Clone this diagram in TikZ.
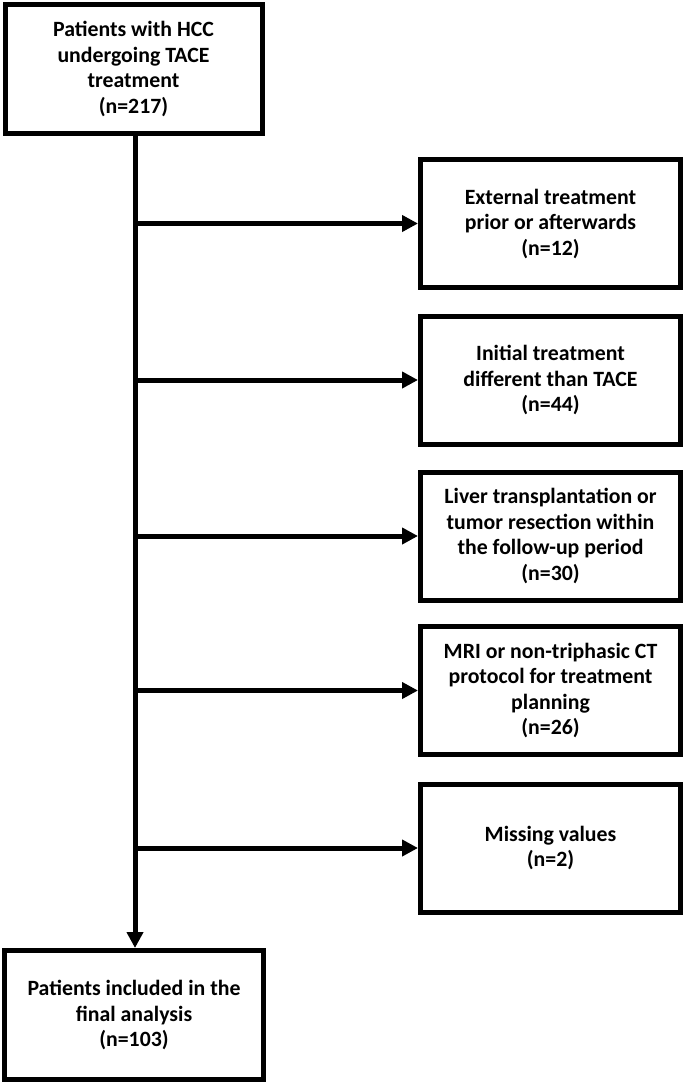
\documentclass[tikz,border=0pt]{standalone}
\usepackage{fontspec}
\setmainfont{Carlito}
\usetikzlibrary{arrows.meta}
\begin{document}
\begin{tikzpicture}[x=1pt,y=-1pt,
  box/.style={draw=black, line width=5pt, align=center, inner sep=0pt,
    font=\fontsize{21.8}{25.5}\selectfont\bfseries},
  lbox/.style={box, minimum width=257pt, minimum height=129pt},
  rbox/.style={box, minimum width=260pt, minimum height=128pt},
  conn/.style={line width=5pt, -{Triangle[length=16pt,width=16pt]}}]
\useasboundingbox (0,0) rectangle (685,1084);
\node[lbox] (top) at (133.5,69) {Patients with HCC\\undergoing TACE\\treatment\\(n=217)};
\node[rbox] (r1) at (550.5,223.5) {External treatment\\prior or afterwards\\(n=12)};
\node[rbox] (r2) at (550.5,380) {Initial treatment\\different than TACE\\(n=44)};
\node[rbox] (r3) at (550.5,536) {Liver transplantation or\\tumor resection within\\the follow-up period\\(n=30)};
\node[rbox] (r4) at (550.5,690.5) {MRI or non-triphasic CT\\protocol for treatment\\planning\\(n=26)};
\node[rbox] (r5) at (550.5,848) {Missing values\\(n=2)};
\node[lbox, minimum width=259pt] (bot) at (134,1015) {Patients included in the\\final analysis\\(n=103)};
\coordinate (spine) at (135,500);
\draw[conn] (top.south -| spine) -- (bot.north -| spine);
\foreach \r in {r1,r2,r3,r4,r5}
  \draw[conn] (spine |- \r.west) -- (\r.west);
\end{tikzpicture}
\end{document}
